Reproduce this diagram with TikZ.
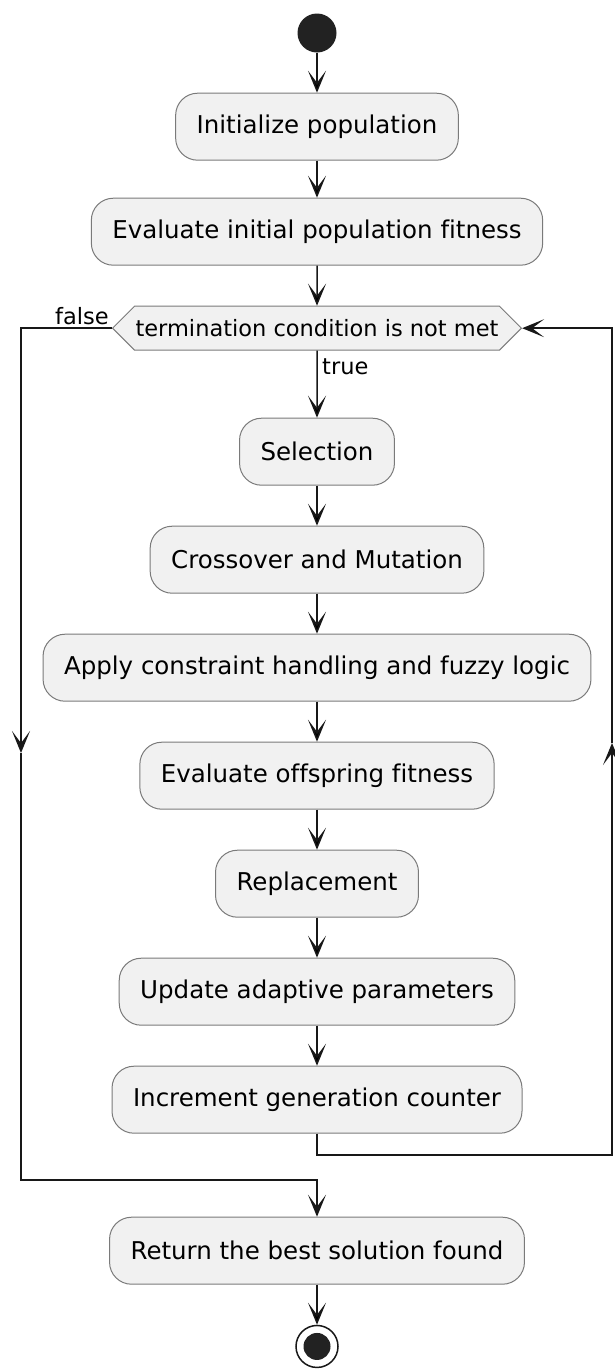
\documentclass[tikz,border=0pt]{standalone}
\usepackage{fontspec}
\setmainfont{DejaVu Sans}[Ligatures=NoCommon]
\usepackage{tikz}
\usetikzlibrary{positioning,shapes.symbols,arrows.meta}
\definecolor{actfill}{HTML}{F1F1F1}
\definecolor{actline}{HTML}{7A7A7A}
\definecolor{flowline}{HTML}{181818}
\definecolor{dotfill}{HTML}{222222}
\tikzset{
  action/.style={draw=actline, fill=actfill, line width=1pt, rounded corners=22pt,
    minimum height=67pt, inner xsep=21pt, font=\fontsize{24.5pt}{29pt}\selectfont},
  decision/.style={signal, signal to=west and east, signal pointer angle=90,
    draw=actline, fill=actfill, line width=1pt, minimum height=44pt,
    inner xsep=1pt, inner ysep=0pt, font=\fontsize{22.5pt}{27pt}\selectfont},
  guard/.style={inner sep=0pt, font=\fontsize{22.5pt}{27pt}\selectfont},
  flow/.style={draw=flowline, line width=1.5pt, -{Stealth[length=22pt,width=18pt,inset=12pt]}},
  startdot/.style={circle, fill=dotfill, minimum size=39pt, inner sep=0pt},
  stopring/.style={circle, draw=flowline, fill=white, line width=1.5pt, minimum size=42pt, inner sep=0pt},
  stopdot/.style={circle, fill=dotfill, minimum size=27pt, inner sep=0pt}
}

\begin{document}
\begin{tikzpicture}[x=1pt,y=-1pt]
  \useasboundingbox (0,0) rectangle (614,1371);
  \node[startdot] (start) at (317,33) {};
  \node[action] (init) [below=40pt of start] {Initialize population};
  \node[action] (evalinit) [below=37pt of init] {Evaluate initial population fitness};
  \node[decision] (dec) [below=40pt of evalinit] {termination condition is not met};
  \node[action] (sel) [below=67pt of dec] {Selection};
  \node[action] (cross) [below=40pt of sel] {Crossover and Mutation};
  \node[action] (apply) [below=40pt of cross] {Apply constraint handling and fuzzy logic};
  \node[action] (evaloff) [below=40pt of apply] {Evaluate offspring fitness};
  \node[action] (repl) [below=40pt of evaloff] {Replacement};
  \node[action] (update) [below=40pt of repl] {Update adaptive parameters};
  \node[action] (incr) [below=40pt of update] {Increment generation counter};
  \node[action] (ret) [below=83pt of incr] {Return the best solution found};
  \node[stopring] (stop) [below=40pt of ret] {};
  \node[stopdot] (stopin) at (stop) {};

  \node[guard, anchor=base east] (falselbl) at ([xshift=-3pt,yshift=4pt]dec.west) {false};
  \node[guard, anchor=north west] (truelbl) at ([xshift=5pt,yshift=-8pt]dec.south) {true};

  \coordinate (loopright) at (612,1155);
  \coordinate (loopmid) at (612,743);
  \coordinate (falsemid) at (21,753);
  \coordinate (falsebot) at (21,1180);

  \path[flow]
    (start) edge (init)
    (init) edge (evalinit)
    (evalinit) edge (dec)
    (dec) edge (sel)
    (sel) edge (cross)
    (cross) edge (apply)
    (apply) edge (evaloff)
    (evaloff) edge (repl)
    (repl) edge (update)
    (update) edge (incr)
    (ret) edge (stop);

  % loop back
  \draw[flow] (incr.south) |- (loopright) -- (loopmid);
  \draw[flow] (loopmid) |- (dec.east);
  % exit
  \draw[flow] (dec.west) -| (falsemid);
  \draw[flow] (falsemid) -- (falsebot) -| (ret.north);
\end{tikzpicture}
\end{document}
